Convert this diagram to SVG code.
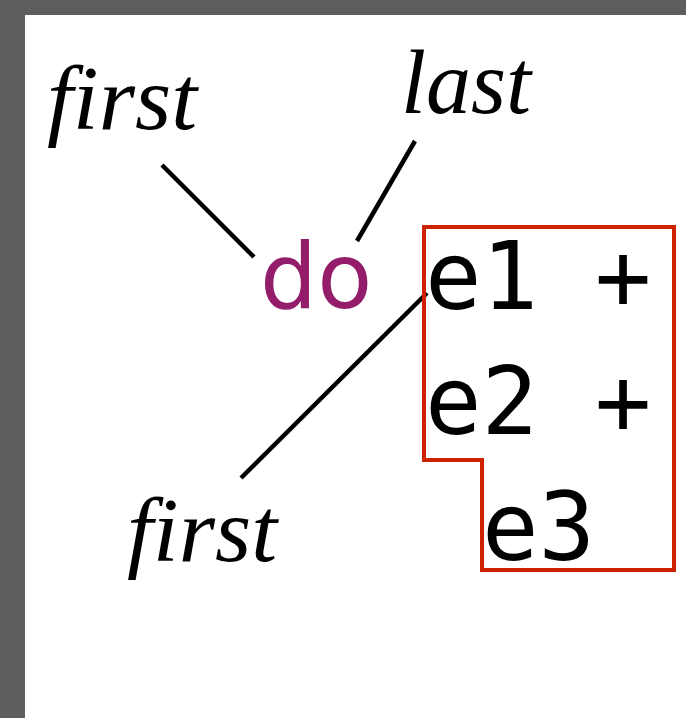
<svg xmlns="http://www.w3.org/2000/svg" width="686" height="718" viewBox="0 0 686 718">
<style>
.lbl{font-family:"Liberation Serif","Times New Roman",serif;font-style:italic;font-size:90px;fill:#000}
.kw{font-family:"DejaVu Sans",sans-serif;font-size:90px;fill:#931C6B}
.code{font-family:"DejaVu Sans Mono","Liberation Mono",monospace;font-size:94px;fill:#000}
.ln{stroke:#000;stroke-width:4.5;fill:none}
.box{stroke:#CC2200;stroke-width:4;fill:none}
</style>
<rect x="0" y="0" width="686" height="718" fill="#5E5E5E"/>
<rect x="25" y="15" width="661" height="703" fill="#FFFFFF"/>
<g id="connectors">
<line class="ln" x1="162" y1="165" x2="254" y2="257"/>
<line class="ln" x1="415" y1="141" x2="357" y2="241"/>
<line class="ln" x1="427" y1="293" x2="241" y2="478"/>
</g>
<g id="first-top"><text class="lbl" x="47" y="129" textLength="150" lengthAdjust="spacingAndGlyphs">first</text></g>
<g id="last"><text class="lbl" x="401" y="113">last</text></g>
<g id="do"><text class="kw" x="260" y="308">do</text></g>
<g id="group-box"><polygon class="box" points="424,227 674,227 674,570 482,570 482,460 424,460"/></g>
<g id="e1"><text class="code" x="425" y="309">e1 +</text></g>
<g id="e2"><text class="code" x="425" y="434">e2 +</text></g>
<g id="e3"><text class="code" x="482" y="560">e3</text></g>
<g id="first-bottom"><text class="lbl" x="127" y="561" textLength="150" lengthAdjust="spacingAndGlyphs">first</text></g>
</svg>
